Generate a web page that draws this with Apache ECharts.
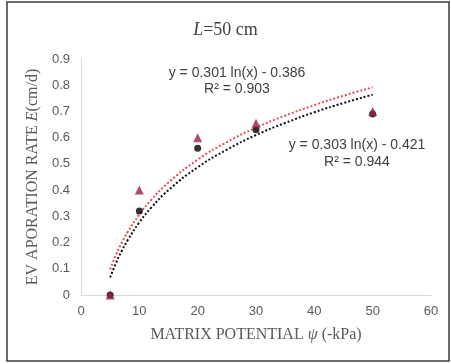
<!DOCTYPE html>
<html>
<head>
<meta charset="utf-8">
<script src="https://cdn.jsdelivr.net/npm/echarts@6/dist/echarts.min.js"></script>
<style>
  html, body { margin: 0; padding: 0; background: #fff; }
  #main { width: 451px; height: 364px; }
</style>
</head>
<body>
<div id="main"></div>
<script>
// measured points: matrix potential (-kPa) vs evaporation rate (cm/d)
var potential = [5, 10, 20, 30, 50];
var rateCircle = [0, 0.32, 0.56, 0.63, 0.69];
var rateTriangle = [0, 0.40, 0.60, 0.655, 0.70];

// log trendlines as shown in the picture (sampled along x)
var trendX = [5, 6, 7, 8, 10, 12, 15, 20, 25, 30, 35, 40, 45, 50];
var trendRed = [0.098, 0.153, 0.200, 0.240, 0.307, 0.362, 0.429, 0.516, 0.583, 0.638, 0.684, 0.724, 0.760, 0.792];
var trendBlack = [0.067, 0.122, 0.169, 0.209, 0.277, 0.332, 0.400, 0.487, 0.554, 0.610, 0.656, 0.697, 0.732, 0.764];

var eqRed = ['y = 0.301 ln(x) - 0.386', 'R² = 0.903'];
var eqBlack = ['y = 0.303 ln(x) - 0.421', 'R² = 0.944'];

function pairs(xs, ys) {
    return xs.map(function (x, i) { return [x, ys[i]]; });
}

var chart = echarts.init(document.getElementById('main'));
var serif = '"Liberation Serif", "DejaVu Serif", serif';
var sans = '"Liberation Sans", Arial, sans-serif';

chart.setOption({
    animation: false,
    backgroundColor: '#fff',
    title: {
        text: '{i|L}=50 cm',
        left: 'center',
        top: 16,
        textStyle: {
            fontFamily: serif, fontSize: 18, fontWeight: 'normal', color: '#404040',
            rich: { i: { fontFamily: serif, fontSize: 18, fontStyle: 'italic', color: '#404040' } }
        }
    },
    grid: { left: 81, right: 20, top: 59, bottom: 69 },
    xAxis: {
        type: 'value', min: 0, max: 60, interval: 10,
        name: 'MATRIX POTENTIAL {i|ψ} (-kPa)',
        nameLocation: 'middle', nameGap: 32,
        nameTextStyle: {
            fontFamily: serif, fontSize: 16, color: '#595959',
            rich: { i: { fontFamily: serif, fontSize: 16, fontStyle: 'italic', color: '#595959' } }
        },
        axisLine: { show: true, lineStyle: { color: '#d9d9d9', width: 1 } },
        axisTick: { show: false },
        splitLine: { show: false },
        axisLabel: { fontFamily: sans, fontSize: 13, color: '#595959', margin: 10 }
    },
    yAxis: {
        type: 'value', min: 0, max: 0.9, interval: 0.1,
        name: 'EV APORATION RATE {i|E}(cm/d)',
        nameLocation: 'middle', nameGap: 40,
        nameTextStyle: {
            fontFamily: serif, fontSize: 16, color: '#595959',
            rich: { i: { fontFamily: serif, fontSize: 16, fontStyle: 'italic', color: '#595959' } }
        },
        axisLine: { show: true, lineStyle: { color: '#d9d9d9', width: 1 } },
        axisTick: { show: false },
        splitLine: { show: false },
        axisLabel: { fontFamily: sans, fontSize: 13, color: '#595959', margin: 11 }
    },
    series: [
        {
            type: 'line', data: pairs(trendX, trendRed), smooth: true, symbol: 'none',
            lineStyle: { color: '#e0505a', width: 2, type: [2, 2] }, z: 2
        },
        {
            type: 'line', data: pairs(trendX, trendBlack), smooth: true, symbol: 'none',
            lineStyle: { color: '#111', width: 2, type: [2, 2] }, z: 2
        },
        {
            type: 'scatter', data: pairs(potential, rateCircle),
            symbol: 'circle', symbolSize: 7,
            itemStyle: { color: '#000' }, z: 3
        },
        {
            type: 'scatter', data: pairs(potential, rateTriangle),
            symbol: 'triangle', symbolSize: 9,
            itemStyle: { color: '#9b1d4e' }, z: 4
        }
    ],
    graphic: [
        {
            type: 'rect', shape: { x: 7, y: 2, width: 442, height: 359 },
            style: { fill: null, stroke: '#3a3a3a', lineWidth: 1.5 }, silent: true
        },
        {
            type: 'text', x: 237, y: 73,
            style: { text: eqRed[0], font: '14px ' + sans, fill: '#404040', align: 'center', verticalAlign: 'middle' }
        },
        {
            type: 'text', x: 237, y: 89,
            style: { text: eqRed[1], font: '14px ' + sans, fill: '#404040', align: 'center', verticalAlign: 'middle' }
        },
        {
            type: 'text', x: 357, y: 145,
            style: { text: eqBlack[0], font: '14px ' + sans, fill: '#404040', align: 'center', verticalAlign: 'middle' }
        },
        {
            type: 'text', x: 357, y: 162,
            style: { text: eqBlack[1], font: '14px ' + sans, fill: '#404040', align: 'center', verticalAlign: 'middle' }
        }
    ]
});
</script>
</body>
</html>
